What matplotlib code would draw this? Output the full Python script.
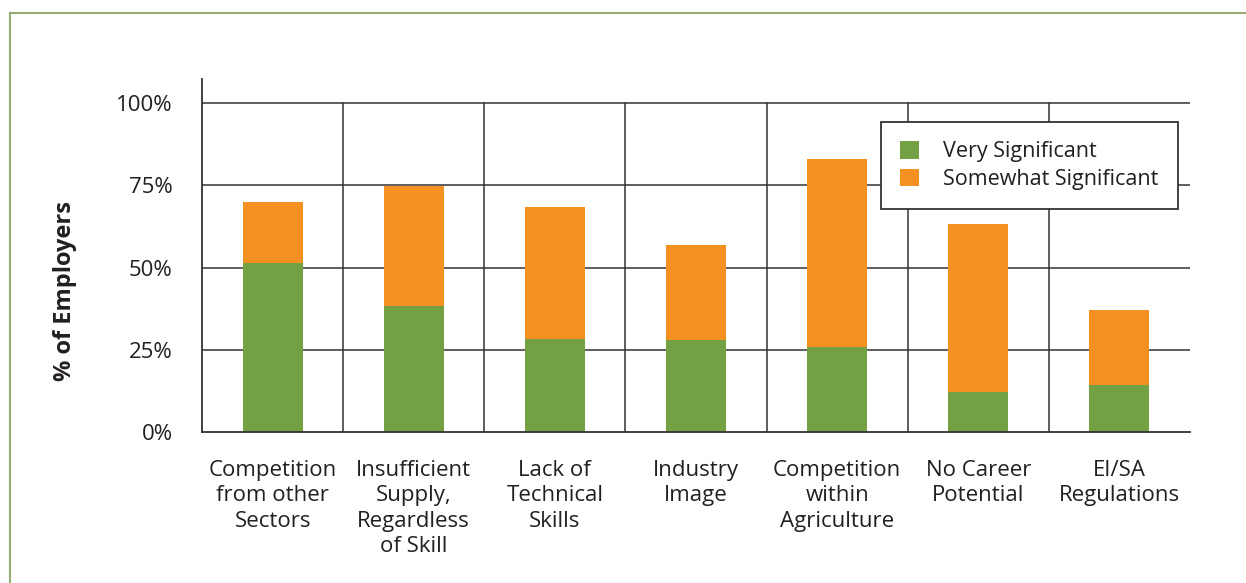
import numpy as np
import matplotlib.pyplot as plt
from matplotlib.lines import Line2D

# data (% of employers)
categories = ['Competition\nfrom other\nSectors', 'Insufficient\nSupply,\nRegardless\nof Skill',
              'Lack of\nTechnical\nSkills', 'Industry\nImage', 'Competition\nwithin\nAgriculture',
              'No Career\nPotential', 'EI/SA\nRegulations']
very = [51.3, 38.3, 28.4, 28.0, 25.8, 12.2, 14.3]
total = [69.9, 74.8, 68.5, 56.8, 83.0, 63.2, 37.1]
somewhat = [t - v for t, v in zip(total, very)]
yticks = [0, 25, 50, 75, 100]
ytick_labels = ['0%', '25%', '50%', '75%', '100%']

plt.rcParams['font.family'] = ['Open Sans', 'DejaVu Sans']
GREEN = '#72a043'
ORANGE = '#f59122'
INK = '#231f20'
LINE = '#333333'

W, H = 1246, 583
fig = plt.figure(figsize=(W / 100, H / 100), dpi=100)
ax = fig.add_axes([202 / W, 1 - 432 / H, (1190 - 202) / W, (432 - 79) / H])

x = np.arange(len(categories))
ax.bar(x, very, width=0.425, color=GREEN, zorder=3, label='Very Significant')
ax.bar(x, somewhat, width=0.425, bottom=very, color=ORANGE, zorder=3, label='Somewhat Significant')

ax.set_xlim(-0.5, len(categories) - 0.5)
ax.set_ylim(0, 100 * (432 - 79) / (432 - 103))

# grid: horizontal at the ticks, vertical between categories
for yv in yticks[1:]:
    ax.axhline(yv, color=LINE, lw=1.1, zorder=1)
for b in np.arange(0.5, len(categories) - 0.5, 1):
    ax.plot([b, b], [0, 100], color=LINE, lw=1.1, zorder=1)

for s in ['top', 'right']:
    ax.spines[s].set_visible(False)
for s in ['left', 'bottom']:
    ax.spines[s].set_color(LINE)
    ax.spines[s].set_linewidth(1.3)
    ax.spines[s].set_zorder(4)

ax.set_yticks(yticks)
ax.set_yticklabels(ytick_labels)
ax.tick_params(axis='y', length=0, pad=21, labelsize=16, labelcolor=INK)
ax.set_xticks(x)
ax.set_xticklabels(categories, linespacing=1.28)
ax.tick_params(axis='x', length=0, pad=20, labelsize=16, labelcolor=INK)
for lbl in ax.get_xticklabels():
    lbl.set_verticalalignment('top')

fig.text(65 / W, 1 - 291 / H, '% of Employers', rotation=90, ha='center', va='center',
         fontsize=17, fontweight='bold', color=INK)

leg = ax.legend(loc='upper right', bbox_to_anchor=(1178 / W, 1 - 122 / H),
                bbox_transform=fig.transFigure, fontsize=15.5, fancybox=False,
                edgecolor=LINE, framealpha=1, borderpad=0.9, labelspacing=0.3,
                handlelength=0.85, handleheight=0.85, handletextpad=1.15, borderaxespad=0)
leg.get_frame().set_linewidth(1.3)
for t in leg.get_texts():
    t.set_color(INK)

# outer green frame (left and top edges)
fig.add_artist(Line2D([10 / W, 10 / W], [0, 1 - 13 / H], color='#94ab74', lw=1.5))
fig.add_artist(Line2D([10 / W, 1], [1 - 13 / H, 1 - 13 / H], color='#94ab74', lw=1.5))

fig.savefig('out.png', dpi=100)
